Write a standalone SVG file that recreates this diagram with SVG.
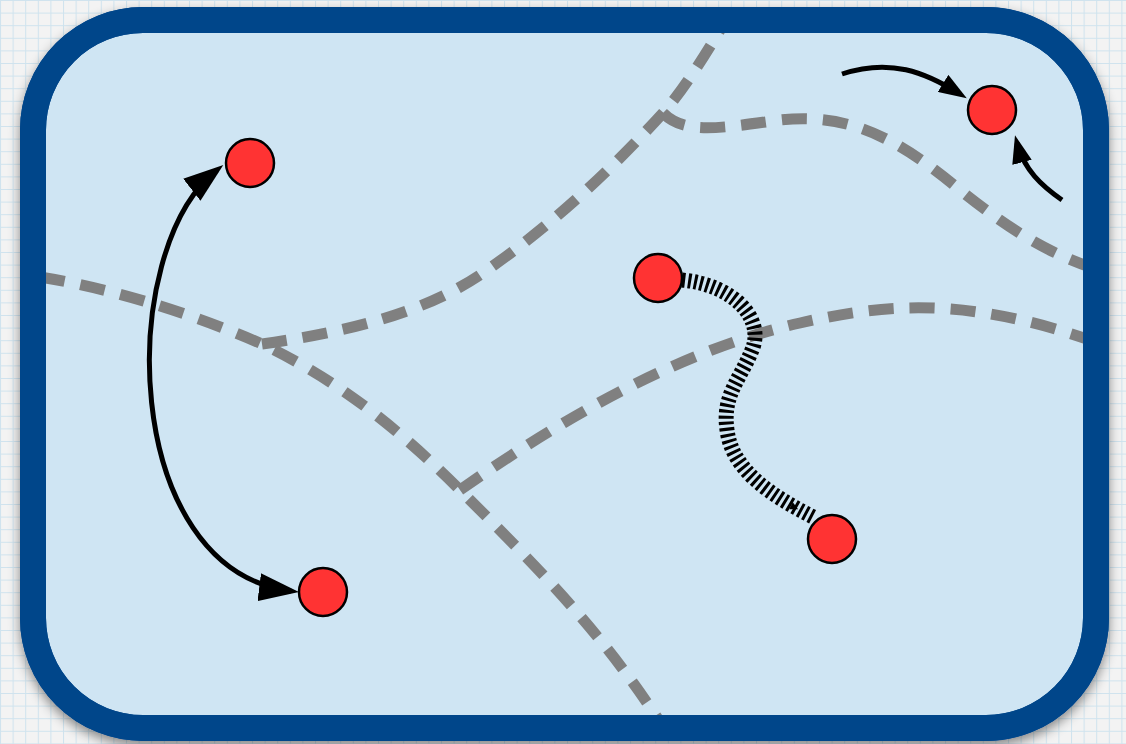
<svg xmlns="http://www.w3.org/2000/svg" width="1126" height="744" viewBox="0 0 1126 744">
  <style>
    .trail { fill: none; stroke: #808080; stroke-width: 11; stroke-dasharray: 25 16; }
    .node circle { fill: #ff3333; stroke: #000; stroke-width: 2.5; }
    .edge { fill: none; stroke: #000; stroke-width: 5; }
    .coil { fill: none; stroke: #000; stroke-width: 15; stroke-dasharray: 3 3; }
  </style>
  <defs>
    <pattern id="grid" width="12.6" height="12.6" patternUnits="userSpaceOnUse">
      <rect width="12.6" height="12.6" fill="#f3f3f3"/>
      <path d="M 0 0.5 H 12.6 M 0.5 0 V 12.6" stroke="#cfe3ee" stroke-width="1"/>
    </pattern>
    <filter id="shadow" x="-10%" y="-10%" width="120%" height="125%">
      <feDropShadow dx="0" dy="5" stdDeviation="6" flood-color="#000" flood-opacity="0.45"/>
    </filter>
    <clipPath id="inside">
      <rect x="33" y="20" width="1063" height="708" rx="110" ry="110"/>
    </clipPath>
    <marker id="headBig" viewBox="0 0 40 28" refX="32" refY="14" markerWidth="40" markerHeight="28" markerUnits="userSpaceOnUse" orient="auto-start-reverse">
      <path d="M0 0 L40 14 L0 28 z" fill="#000"/>
    </marker>
    <marker id="headSmall" viewBox="0 0 28 20" refX="20" refY="10" markerWidth="28" markerHeight="20" markerUnits="userSpaceOnUse" orient="auto">
      <path d="M0 0 L28 10 L0 20 z" fill="#000"/>
    </marker>
    <marker id="headTiny" viewBox="-30 -8 36 16" refX="0" refY="0" markerWidth="36" markerHeight="16" markerUnits="userSpaceOnUse" orient="auto">
      <path d="M-27 -4 L-19 0 L-27 4 z" fill="#000"/>
    </marker>
  </defs>

  <!-- graph paper backdrop -->
  <rect width="1126" height="744" fill="url(#grid)"/>

  <!-- board -->
  <g id="board">
    <rect x="33" y="20" width="1063" height="708" rx="110" ry="110" fill="#cfe5f3" stroke="#00468a" stroke-width="26" filter="url(#shadow)"/>
  </g>

  <!-- grey dashed trails across the board -->
  <g id="trails" clip-path="url(#inside)">
    <path class="trail" d="M 40 277 C 120 290, 200 317, 262 344 C 320 372, 380 410, 460 490 C 540 570, 600 630, 662 725"/>
    <path class="trail" d="M 262 344 C 340 333, 420 315, 480 275 C 560 220, 620 160, 663 113 C 685 88, 705 55, 725 22"/>
    <path class="trail" d="M 663 113 C 685 135, 720 128, 780 120 C 850 112, 900 140, 960 190 C 1000 222, 1040 250, 1090 267"/>
    <path class="trail" d="M 460 490 C 560 420, 680 350, 800 323 C 880 305, 960 295, 1090 340"/>
  </g>
  <!-- border drawn again over the trail ends -->
  <rect x="33" y="20" width="1063" height="708" rx="110" ry="110" fill="none" stroke="#00468a" stroke-width="26"/>

  <!-- connectors -->
  <g id="connectors">
    <path class="edge" d="M 217 170 C 115 250, 120 570, 291 591" marker-start="url(#headBig)" marker-end="url(#headBig)"/>
    <path class="edge" d="M 842 74 C 890 58, 925 72, 960 94" marker-end="url(#headSmall)"/>
    <path class="edge" d="M 1062 200 C 1042 186, 1024 170, 1017 143" marker-end="url(#headSmall)"/>
    <path class="coil" d="M 682 280 C 735 285, 765 320, 752 350 C 740 380, 722 395, 727 430 C 732 470, 770 495, 815 518" marker-end="url(#headTiny)"/>
  </g>

  <!-- nodes -->
  <g id="node-a" class="node"><circle cx="250" cy="163" r="24"/></g>
  <g id="node-b" class="node"><circle cx="323" cy="592" r="24"/></g>
  <g id="node-c" class="node"><circle cx="658" cy="278" r="24"/></g>
  <g id="node-d" class="node"><circle cx="832" cy="539" r="24"/></g>
  <g id="node-e" class="node"><circle cx="992" cy="110" r="24"/></g>
</svg>
